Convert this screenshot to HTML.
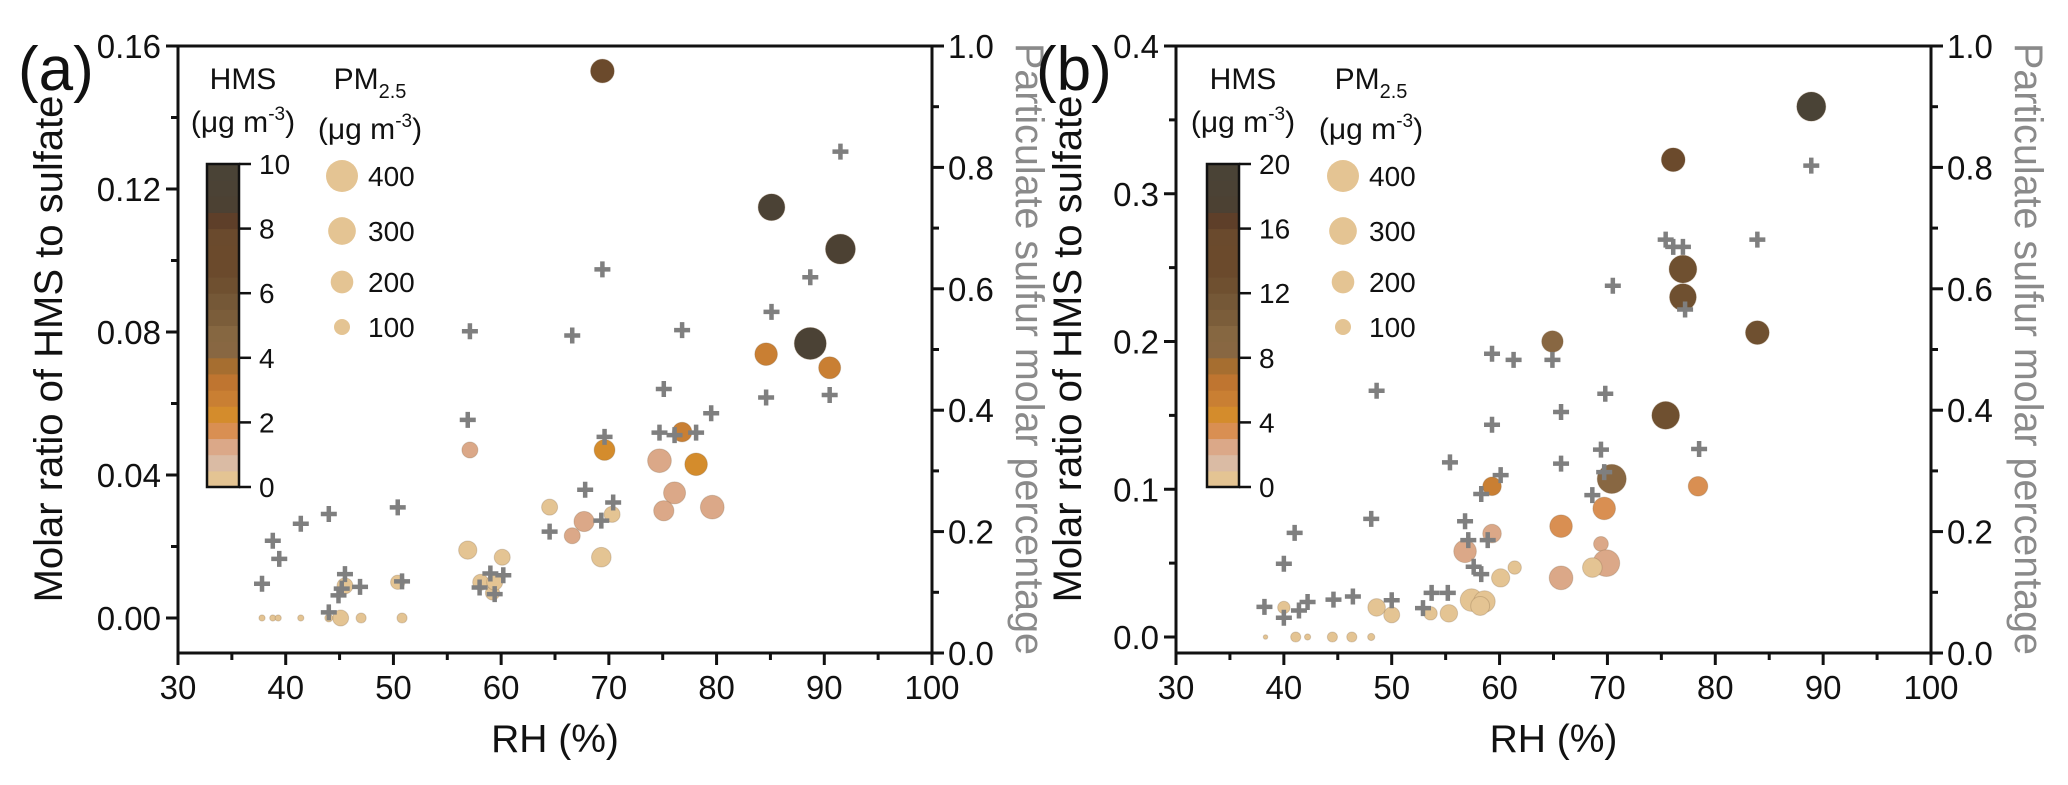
<!DOCTYPE html>
<html><head><meta charset="utf-8"><style>
html,body{margin:0;padding:0;background:#fff;}
svg{display:block;font-family:"Liberation Sans",Arial,sans-serif;}
</style></head>
<body>
<svg id="fig" width="2068" height="785" viewBox="0 0 2068 785" xmlns="http://www.w3.org/2000/svg"></svg>
<script>
// ---- Panel (a) data ----
const rhA    = [69.4,76.8,69.6,78.1,74.7,76.1,75.1,79.6,57.1,67.7,66.6,64.5,70.3,69.3,56.9,60.1,58.1,59.2,59.4,50.4,45.5,45.1,47.0,50.8,37.8,38.8,39.3,41.4,44.0,85.1,91.5,88.7,84.6,90.5];
const ratioA = [0.153,0.052,0.047,0.043,0.044,0.035,0.030,0.031,0.047,0.027,0.023,0.031,0.029,0.017,0.019,0.017,0.010,0.007,0.010,0.010,0.009,0,0,0,0,0,0,0,0,0.1149,0.1032,0.0768,0.0738,0.070];
const hmsA   = [7.2,2.6,2.2,2.2,1.2,1.2,1.2,1.1,1.2,1.0,1.1,0.3,0.3,0.3,0.3,0.3,0.3,0.3,0.3,0.3,0.3,0.3,0.2,0.2,0.2,0.2,0.2,0.2,0.2,9.2,8.6,9.4,2.6,2.6];
const pmA    = [220,150,170,200,220,190,160,220,100,160,100,100,100,150,130,100,100,80,100,80,100,100,40,40,15,15,15,15,25,280,350,400,200,190];
const plusRhA   = [37.8,38.8,39.4,41.4,44.0,44.0,44.9,45.2,45.5,46.9,50.4,50.8,57.1,56.9,58.0,59.0,59.4,60.2,64.5,66.6,67.8,69.3,69.4,69.6,70.4,74.7,75.1,76.1,76.8,78.1,79.5,91.5,88.7,85.1,84.6,90.5];
const plusFracA = [0.114,0.185,0.155,0.213,0.229,0.067,0.095,0.106,0.130,0.109,0.240,0.118,0.530,0.384,0.108,0.131,0.097,0.128,0.200,0.523,0.269,0.218,0.632,0.356,0.248,0.363,0.435,0.359,0.532,0.363,0.395,0.826,0.619,0.562,0.421,0.425];
const yTicksA = [0,0.04,0.08,0.12,0.16];
const yTickLabelsA = ["0.00","0.04","0.08","0.12","0.16"];
const cbTicksA = [0,2,4,6,8,10];

// ---- Panel (b) data ----
const rhB    = [88.9,76.1,77.0,77.0,83.9,64.9,75.4,70.4,59.3,78.4,69.7,65.7,59.3,56.8,69.4,69.9,68.6,65.7,60.1,61.4,57.4,58.6,58.2,55.3,53.6,50.0,48.6,40.0,38.3,41.1,42.2,44.5,46.3,48.1];
const ratioB = [0.359,0.323,0.249,0.230,0.206,0.200,0.150,0.107,0.102,0.102,0.087,0.075,0.070,0.058,0.063,0.050,0.047,0.040,0.040,0.047,0.025,0.024,0.021,0.016,0.016,0.015,0.020,0.020,0,0,0,0,0,0];
const hmsB   = [19,13,12.5,12.5,12.5,8.3,12.5,8.4,5,3.5,3,3,2.3,2.3,2,2,0.5,2.2,0.5,0.5,0.5,0.5,0.5,0.5,0.5,0.5,0.5,0.5,0.5,0.5,0.5,0.5,0.5,0.5];
const pmB    = [330,220,300,280,220,180,300,330,135,150,200,200,135,200,85,280,150,220,130,70,200,180,140,120,70,100,120,60,8,40,15,40,40,20];
const plusRhB   = [88.9,75.4,76.1,77.0,83.9,70.5,77.2,59.3,61.3,64.9,48.6,69.8,65.7,59.3,78.5,69.4,55.4,65.7,60.1,69.7,58.3,68.6,48.1,56.8,57.1,58.9,57.6,58.3,41.0,40.0,38.2,40.0,41.4,42.2,44.6,46.4,50.0,52.9,53.7,55.2];
const plusFracB = [0.803,0.681,0.669,0.669,0.681,0.605,0.566,0.493,0.483,0.483,0.432,0.427,0.397,0.376,0.336,0.335,0.314,0.312,0.293,0.298,0.262,0.260,0.221,0.217,0.186,0.186,0.142,0.130,0.198,0.147,0.076,0.058,0.070,0.084,0.088,0.093,0.087,0.074,0.099,0.099];
const yTicksB = [0,0.1,0.2,0.3,0.4];
const yTickLabelsB = ["0.0","0.1","0.2","0.3","0.4"];
const cbTicksB = [0,4,8,12,16,20];

const xTicks = [30,40,50,60,70,80,90,100];
const rTicks = [0,0.2,0.4,0.6,0.8,1.0];
const rTickLabels = ["0.0","0.2","0.4","0.6","0.8","1.0"];
const legendPM = [400,300,200,100];

const BANDS = ['#e4c493','#dabba4','#dba888','#d98f52','#d48c2c','#c97f33','#bf7530','#a66e30','#886742','#866741','#7b5d3a','#755837','#6f5030','#6b4a2c','#6b4a2c','#6a4a2d','#5e3f29','#4c4133','#4b4235','#4a4336'];

const NS='http://www.w3.org/2000/svg';
const svg=document.getElementById('fig');
function mk(tag,attrs,parent){const e=document.createElementNS(NS,tag);for(const k in attrs)e.setAttribute(k,attrs[k]);(parent||svg).appendChild(e);return e;}
function txt(s,attrs,parent){const e=mk('text',attrs,parent);e.textContent=s;return e;}

function panel(cfg){
  const g=mk('g',{});
  
  
  const L=cfg.L,R=cfg.R,T=46,B=653;
  const xs=v=>L+(v-30)/70*(R-L);
  const ys=v=>cfg.y0px-(v)/cfg.ymax*(cfg.y0px-T);
  const rs=v=>B-v*(B-T);
  const col=h=>BANDS[Math.max(0,Math.min(19,Math.floor(h/cfg.hmax*20)))];
  const rad=p=>0.8*Math.sqrt(p);
  const cg=mk('g',{},g);
  
  
  cfg.rh.forEach((v,i)=>{
    const c=mk('circle',{cx:xs(v),cy:ys(cfg.ratio[i]),r:rad(cfg.pm[i]),fill:col(cfg.hms[i]),stroke:'rgba(120,90,60,0.25)','stroke-width':1},cg);
    
    
  });
  const pg=mk('g',{},g);
  
  
  cfg.prh.forEach((v,i)=>{
    const x=xs(v),y=rs(cfg.pfrac[i]);
    const p=mk('path',{d:`M${x-8},${y}H${x+8}M${x},${y-8}V${y+8}`,stroke:'#7f7f7f','stroke-width':4.5,fill:'none'},pg);
    
    
  });
  const fr=mk('rect',{x:L,y:T,width:R-L,height:B-T,fill:'none',stroke:'#111','stroke-width':3},g);
  
  
  xTicks.forEach(v=>{
    mk('line',{x1:xs(v),x2:xs(v),y1:B,y2:B+12,stroke:'#111','stroke-width':3},g);
    if(v<100) mk('line',{x1:xs(v+5),x2:xs(v+5),y1:B,y2:B+7,stroke:'#111','stroke-width':3},g);
    const t=txt(String(v),{x:xs(v),y:699,'font-size':33,'text-anchor':'middle',fill:'#111'},g);
    
    
  });
  cfg.yt.forEach((v,i)=>{
    mk('line',{x1:L-12,x2:L,y1:ys(v),y2:ys(v),stroke:'#111','stroke-width':3},g);
    if(i<cfg.yt.length-1){const m=(v+cfg.yt[i+1])/2;mk('line',{x1:L-7,x2:L,y1:ys(m),y2:ys(m),stroke:'#111','stroke-width':3},g);}
    const t=txt(cfg.ytl[i],{x:L-17,y:ys(v)+12,'font-size':33,'text-anchor':'end',fill:'#111'},g);
    
    
  });
  rTicks.forEach((v,i)=>{
    mk('line',{x1:R,x2:R+12,y1:rs(v),y2:rs(v),stroke:'#111','stroke-width':3},g);
    if(i<rTicks.length-1) mk('line',{x1:R,x2:R+7,y1:rs(v+0.1),y2:rs(v+0.1),stroke:'#111','stroke-width':3},g);
    const t=txt(rTickLabels[i],{x:R+16,y:rs(v)+12,'font-size':33,fill:'#111'},g);
    
    
  });
  const xt=txt('RH (%)',{x:(L+R)/2,y:752,'font-size':39,'text-anchor':'middle',fill:'#111'},g);
  
  
  const yt=txt('Molar ratio of HMS to sulfate',{x:0,y:0,'font-size':40,'text-anchor':'middle',fill:'#111',transform:`translate(${cfg.ylx},349) rotate(-90)`},g);
  
  
  const rt=txt('Particulate sulfur molar percentage',{x:0,y:0,'font-size':40,'text-anchor':'middle',fill:'#8a8a8a',textLength:612,lengthAdjust:'spacingAndGlyphs',transform:`translate(${R+84},349) rotate(90)`},g);
  
  
  const pl=txt(cfg.label,{x:cfg.lblx,y:90,'font-size':62,fill:'#111'},g);
  
  
  const lg=mk('g',{},g);
  
  
  const cx0=cfg.cbx, cbw=32, cT=164, cB=487;
  txt('HMS',{x:cx0+36,y:89,'font-size':30,'text-anchor':'middle',fill:'#111'},lg);
  const u1=txt('',{x:cx0+36,y:132,'font-size':30,'text-anchor':'middle',fill:'#111'},lg);
  u1.innerHTML='(μg m<tspan dy="-12" font-size="19">-3</tspan><tspan dy="12">)</tspan>';
  for(let i=0;i<20;i++){
    const h=(cB-cT)/20;
    mk('rect',{x:cx0,y:cB-(i+1)*h,width:cbw,height:h+0.5,fill:BANDS[i]},lg);
  }
  mk('rect',{x:cx0,y:cT,width:cbw,height:cB-cT,fill:'none',stroke:'#111','stroke-width':2.5},lg);
  cfg.cbt.forEach(v=>{
    const y=cB-v/cfg.hmax*(cB-cT);
    mk('line',{x1:cx0+cbw,x2:cx0+cbw+12,y1:y,y2:y,stroke:'#111','stroke-width':2.5},lg);
    txt(String(v),{x:cx0+cbw+20,y:y+10,'font-size':28,fill:'#111'},lg);
  });
  const sg=mk('g',{},g);
  
  
  const sx=cfg.szx;
  const pmT=txt('',{x:sx+28,y:89,'font-size':30,'text-anchor':'middle',fill:'#111'},sg);
  pmT.innerHTML='PM<tspan dy="9" font-size="20">2.5</tspan>';
  const u2=txt('',{x:sx+28,y:139,'font-size':30,'text-anchor':'middle',fill:'#111'},sg);
  u2.innerHTML='(μg m<tspan dy="-12" font-size="19">-3</tspan><tspan dy="12">)</tspan>';
  const lys=[176,231,282,327];
  legendPM.forEach((p,i)=>{
    mk('circle',{cx:sx,cy:lys[i],r:rad(p),fill:BANDS[0]},sg);
    txt(String(p),{x:sx+26,y:lys[i]+10,'font-size':28,fill:'#111'},sg);
  });
}

panel({name:'panel-a',label:'(a)',lblx:18,L:178,R:932,y0px:618,ymax:0.16,hmax:10,rh:rhA,ratio:ratioA,hms:hmsA,pm:pmA,prh:plusRhA,pfrac:plusFracA,yt:yTicksA,ytl:yTickLabelsA,cbt:cbTicksA,ylx:62,cbx:207,szx:342});
panel({name:'panel-b',label:'(b)',lblx:1036,L:1176,R:1931,y0px:637,ymax:0.4,hmax:20,rh:rhB,ratio:ratioB,hms:hmsB,pm:pmB,prh:plusRhB,pfrac:plusFracB,yt:yTicksB,ytl:yTickLabelsB,cbt:cbTicksB,ylx:1081,cbx:1207,szx:1343});
</script>
</body></html>
